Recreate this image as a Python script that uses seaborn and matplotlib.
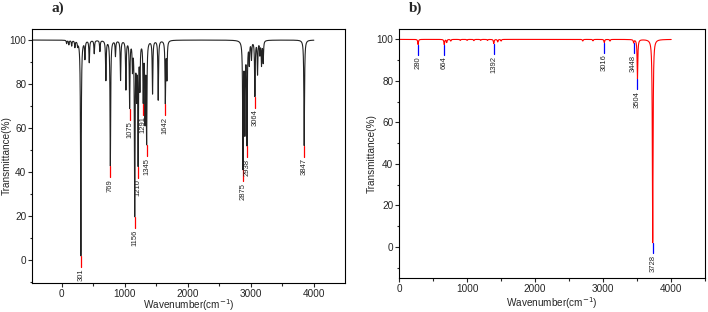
import numpy as np
import pandas as pd
import matplotlib
matplotlib.use("Agg")
import matplotlib.pyplot as plt
import seaborn as sns
from matplotlib.ticker import MultipleLocator

# ---- panel a: peak list (wavenumber, depth in % transmittance) ----
peaks_a_pos = [75, 110, 155, 206, 250, 301, 365, 434, 513, 603, 698, 769, 850,
               931, 1016, 1075, 1120, 1156, 1185, 1210, 1238, 1291, 1320, 1345,
               1439, 1529, 1642, 1667, 2875, 2905, 2938, 2975, 3010, 3064, 3106,
               3143, 3169, 3196, 3847]
peaks_a_depth = [1.5, 2.0, 2.5, 3.0, 2.0, 98.0, 8.0, 10.0, 6.0, 5.0, 18.0, 57.0, 7.0,
                 18.0, 22.0, 30.0, 12.0, 78.0, 22.0, 54.0, 20.0, 26.0, 35.0, 45.0,
                 24.0, 27.0, 28.0, 17.0, 57.0, 40.0, 46.0, 10.0, 8.0, 25.0, 15.0,
                 6.0, 11.0, 10.0, 48.0]
labels_a = [301, 769, 1075, 1156, 1210, 1291, 1345, 1642, 2875, 2938, 3064, 3847]

# ---- panel b ----
peaks_b_pos = [280, 664, 700, 760, 900, 1000, 1100, 1200, 1300, 1392, 1450, 1500,
               2700, 2850, 3016, 3100, 3448, 3504, 3728]
peaks_b_depth = [2.5, 2.5, 1.5, 0.8, 0.5, 0.5, 0.6, 0.5, 0.5, 2.0, 1.2, 0.8,
                 0.8, 0.7, 1.5, 0.8, 1.5, 19.0, 98.0]
labels_b = [280, 664, 1392, 3016, 3448, 3504, 3728]


def spectrum(x, pos, depth, hwhm=6.0):
    t = np.full_like(x, 100.0)
    for p, d in zip(pos, depth):
        t -= d / (1.0 + ((x - p) / hwhm) ** 2)
    return t


xa = np.arange(-500, 4000.5, 0.5)
xb = np.arange(0, 4000.5, 0.5)
df_a = pd.DataFrame({"wn": xa, "T": spectrum(xa, peaks_a_pos, peaks_a_depth)})
df_b = pd.DataFrame({"wn": xb, "T": spectrum(xb, peaks_b_pos, peaks_b_depth)})

sns.set_style("white")
plt.rcParams["font.family"] = ["Liberation Sans", "DejaVu Sans"]
plt.rcParams["font.size"] = 7.5

fig = plt.figure(figsize=(7.08, 3.12), dpi=100)
ax_a = fig.add_axes([0.0452, 0.093, 0.4421, 0.814])
ax_b = fig.add_axes([0.5636, 0.109, 0.4325, 0.798])


def draw_panel(ax, df, labels, line_color, mark_color, xlim, ylim, xlab_y, ylab_x):
    sns.lineplot(data=df, x="wn", y="T", ax=ax, color=line_color, lw=0.8,
                 estimator=None, sort=False)
    for lab in labels:
        y0 = np.interp(lab, df["wn"], df["T"])
        ax.plot([lab, lab], [y0, y0 - 5], color=mark_color, lw=0.9)
        ax.text(lab, y0 - 5.8, str(lab), rotation=90, ha="center", va="top",
                fontsize=5.5)
    ax.set_xlim(*xlim)
    ax.set_ylim(*ylim)
    ax.xaxis.set_major_locator(MultipleLocator(1000))
    ax.xaxis.set_minor_locator(MultipleLocator(500))
    ax.yaxis.set_major_locator(MultipleLocator(20))
    ax.yaxis.set_minor_locator(MultipleLocator(10))
    ax.tick_params(which="both", direction="out", bottom=True, left=True,
                   top=False, right=False, labelsize=7.2, pad=1)
    ax.tick_params(which="major", length=3, width=0.8)
    ax.tick_params(which="minor", length=1.8, width=0.8)
    for s in ax.spines.values():
        s.set_color("black")
        s.set_linewidth(0.8)
    ax.set_xlabel("Wavenumber(cm$^{-1}$)", fontsize=7.2, va="center")
    ax.set_ylabel("Transmittance(%)", fontsize=7.2, va="center")
    ax.xaxis.set_label_coords(0.5, xlab_y)
    ax.yaxis.set_label_coords(ylab_x, 0.5)


draw_panel(ax_a, df_a, labels_a, "#222222", "red", (-475, 4495), (-10.5, 105),
           -0.088, -0.082)
draw_panel(ax_b, df_b, labels_b, "red", "blue", (0, 4500), (-15, 105),
           -0.10, -0.088)

fig.text(0.073, 0.972, "a)", fontsize=11, fontweight="bold",
         family="Liberation Serif", ha="left", va="center")
fig.text(0.578, 0.974, "b)", fontsize=11, fontweight="bold",
         family="Liberation Serif", ha="left", va="center")

fig.savefig("out.png", dpi=100)
